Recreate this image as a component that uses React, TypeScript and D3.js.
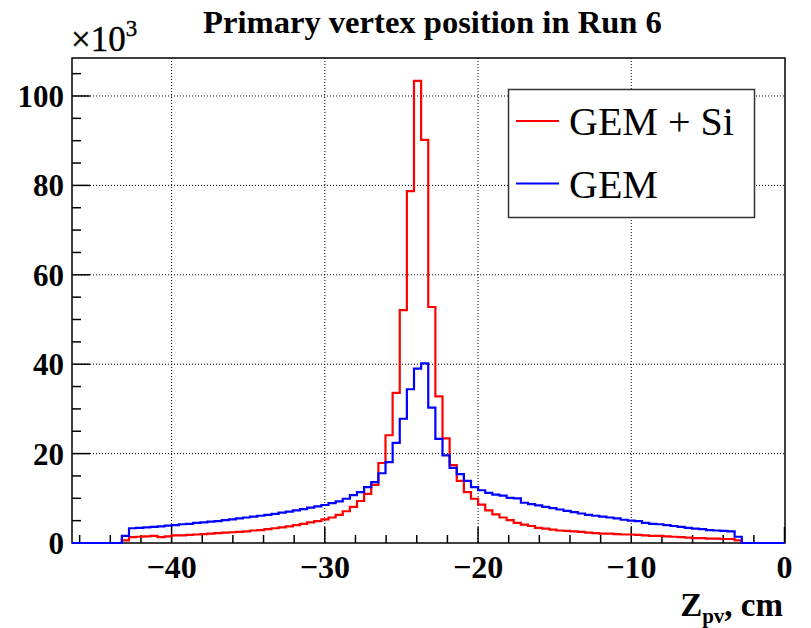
import React from "react";
import * as d3 from "d3";

// Histogram definition (ROOT-style: 100 bins on [-46.5, 0] cm)
const binRange: [number, number] = [-46.5, 0];
const nBins = 100;

// Bin contents in units of 10^3 entries
const gemSi: number[] = [
  0, 0, 0, 0, 0, 0, 0,
  0.6, 1.3, 1.4, 1.5, 1.6, 1.3, 1.5, 1.7, 1.7, 1.8,
  1.9, 2.0, 2.1, 2.2, 2.3, 2.4, 2.5, 2.6, 2.8, 2.9,
  3.1, 3.3, 3.5, 3.7, 4.0, 4.3, 4.6, 4.9, 5.3, 5.7,
  6.3, 7.1, 8.1, 9.4, 11.0, 13.0, 17.9, 24.1, 33.6, 52.1,
  78.7, 103.4, 90.2, 52.8, 32.8, 23.4, 17.4, 13.9, 11.4, 9.9,
  8.6, 7.3, 6.4, 5.7, 5.1, 4.5, 4.1, 3.8, 3.4, 3.2,
  3.0, 2.8, 2.7, 2.6, 2.5, 2.3, 2.2, 2.1, 2.1, 2.0,
  1.9, 1.9, 1.8, 1.7, 1.6, 1.6, 1.5, 1.4, 1.3, 1.2,
  1.1, 1.1, 1.0, 1.0, 0.9, 0.9, 0.6,
  0, 0, 0, 0, 0, 0,
];

const gem: number[] = [
  0, 0, 0, 0, 0, 0, 0,
  1.6, 3.3, 3.4, 3.5, 3.6, 3.7, 3.9, 4.0, 4.2, 4.3,
  4.5, 4.6, 4.8, 4.9, 5.1, 5.3, 5.5, 5.7, 5.9, 6.1,
  6.3, 6.5, 6.8, 7.0, 7.3, 7.6, 7.9, 8.2, 8.5, 8.9,
  9.3, 9.9, 10.7, 11.4, 12.5, 13.6, 15.6, 18.1, 22.4, 27.8,
  34.4, 39.0, 40.2, 30.3, 23.3, 19.6, 16.8, 15.4, 13.9, 12.5,
  11.8, 11.2, 10.8, 10.6, 10.1, 10.0, 9.0, 8.7, 8.4, 8.1,
  7.8, 7.5, 7.2, 6.9, 6.6, 6.3, 6.1, 5.9, 5.7, 5.5,
  5.2, 5.0, 4.9, 4.5, 4.3, 4.2, 4.0, 3.8, 3.6, 3.4,
  3.2, 3.1, 2.9, 2.8, 2.7, 2.6, 1.4,
  0, 0, 0, 0, 0, 0,
];

const xMajorTicks = [-40, -30, -20, -10, 0];
const yMajorTicks = [0, 20, 40, 60, 80, 100];
const legendLabels = ["GEM + Si", "GEM"];
const title = "Primary vertex position in Run 6";

const W = 811;
const H = 628;
const M = { left: 72, right: 785, top: 58, bottom: 543 };

export default function App() {
  const x = d3.scaleLinear().domain(binRange).range([M.left, M.right - 0.5]);
  const y = d3.scaleLinear().domain([0, 108.5]).range([M.bottom, M.top]);

  const binW = (binRange[1] - binRange[0]) / nBins;
  const edges = d3.range(nBins + 1).map((i) => binRange[0] + i * binW);

  const stepPath = (vals: number[]) => {
    const pts: [number, number][] = vals.map((v, i) => [edges[i], v]);
    pts.push([edges[nBins], vals[nBins - 1]]);
    return d3
      .line<[number, number]>()
      .x((d) => x(d[0]))
      .y((d) => y(d[1]))
      .curve(d3.curveStepAfter)(pts) as string;
  };

  const xMinor = d3.range(-46, 0.001, 2).filter((v) => v % 10 !== 0);
  const yMinor = d3.range(5, 108, 5).filter((v) => v % 20 !== 0);

  const font = "'Liberation Serif', 'Times New Roman', serif";

  return (
    <svg width={W} height={H} style={{ position: "absolute", left: 0, top: 0, background: "#fff" }}>
      <rect x={0} y={0} width={W} height={H} fill="#fff" />
      {/* grid */}
      {xMajorTicks
        .filter((v) => v !== 0)
        .map((v) => (
          <line key={"gx" + v} x1={x(v)} x2={x(v)} y1={M.top} y2={M.bottom} stroke="#000" strokeWidth={1} strokeDasharray="1,2" />
        ))}
      {yMajorTicks
        .filter((v) => v !== 0)
        .map((v) => (
          <line key={"gy" + v} x1={M.left} x2={M.right} y1={y(v)} y2={y(v)} stroke="#000" strokeWidth={1} strokeDasharray="1,2" />
        ))}
      {/* frame */}
      <rect x={M.left} y={M.top} width={M.right - M.left} height={M.bottom - M.top} fill="none" stroke="#000" strokeWidth={1.5} />
      {/* ticks */}
      {xMajorTicks.map((v) => (
        <line key={"xt" + v} x1={x(v)} x2={x(v)} y1={M.bottom} y2={M.bottom - 16} stroke="#000" strokeWidth={1.5} />
      ))}
      {xMinor.map((v) => (
        <line key={"xm" + v} x1={x(v)} x2={x(v)} y1={M.bottom} y2={M.bottom - 8} stroke="#000" strokeWidth={1.5} />
      ))}
      {yMajorTicks.map((v) => (
        <line key={"yt" + v} x1={M.left} x2={M.left + 18} y1={y(v)} y2={y(v)} stroke="#000" strokeWidth={1.5} />
      ))}
      {yMinor.map((v) => (
        <line key={"ym" + v} x1={M.left} x2={M.left + 9} y1={y(v)} y2={y(v)} stroke="#000" strokeWidth={1.5} />
      ))}
      {/* histograms */}
      <path d={stepPath(gemSi)} fill="none" stroke="#ff0000" strokeWidth={2.2} />
      <path d={stepPath(gem)} fill="none" stroke="#0000ff" strokeWidth={2.2} />
      {/* tick labels */}
      {xMajorTicks.map((v) => (
        <text key={"xl" + v} x={x(v)} y={578} textAnchor="middle" fontFamily={font} fontWeight="bold" fontSize={32}>
          {v < 0 ? "\u2212" + Math.abs(v) : String(v)}
        </text>
      ))}
      {yMajorTicks.map((v) => (
        <text key={"yl" + v} x={64} y={y(v) + 11} textAnchor="end" fontFamily={font} fontWeight="bold" fontSize={31}>
          {v}
        </text>
      ))}
      {/* exponent */}
      <text x={71} y={51} fontFamily={font} fontSize={35} stroke="#000" strokeWidth={0.4}>
        ×10<tspan dy={-15} fontSize={23}>3</tspan>
      </text>
      {/* title */}
      <text x={432.5} y={33} textAnchor="middle" fontFamily={font} fontWeight="bold" fontSize={32.6}>
        {title}
      </text>
      {/* axis title */}
      <text x={783} y={616} textAnchor="end" fontFamily={font} fontWeight="bold" fontSize={33}>
        Z<tspan dy={7} fontSize={21}>pv</tspan>
        <tspan dy={-7} fontSize={33}>, cm</tspan>
      </text>
      {/* legend */}
      <rect x={508.5} y={89.5} width={246} height={128} fill="#fff" stroke="#333" strokeWidth={1.5} />
      {legendLabels.map((lab, i) => (
        <g key={lab}>
          <line x1={516} x2={559} y1={121 + i * 62.5} y2={121 + i * 62.5} stroke={i === 0 ? "#ff0000" : "#0000ff"} strokeWidth={2} />
          <text x={569} y={135 + i * 62.5} fontFamily={font} fontSize={40}>
            {lab}
          </text>
        </g>
      ))}
    </svg>
  );
}
